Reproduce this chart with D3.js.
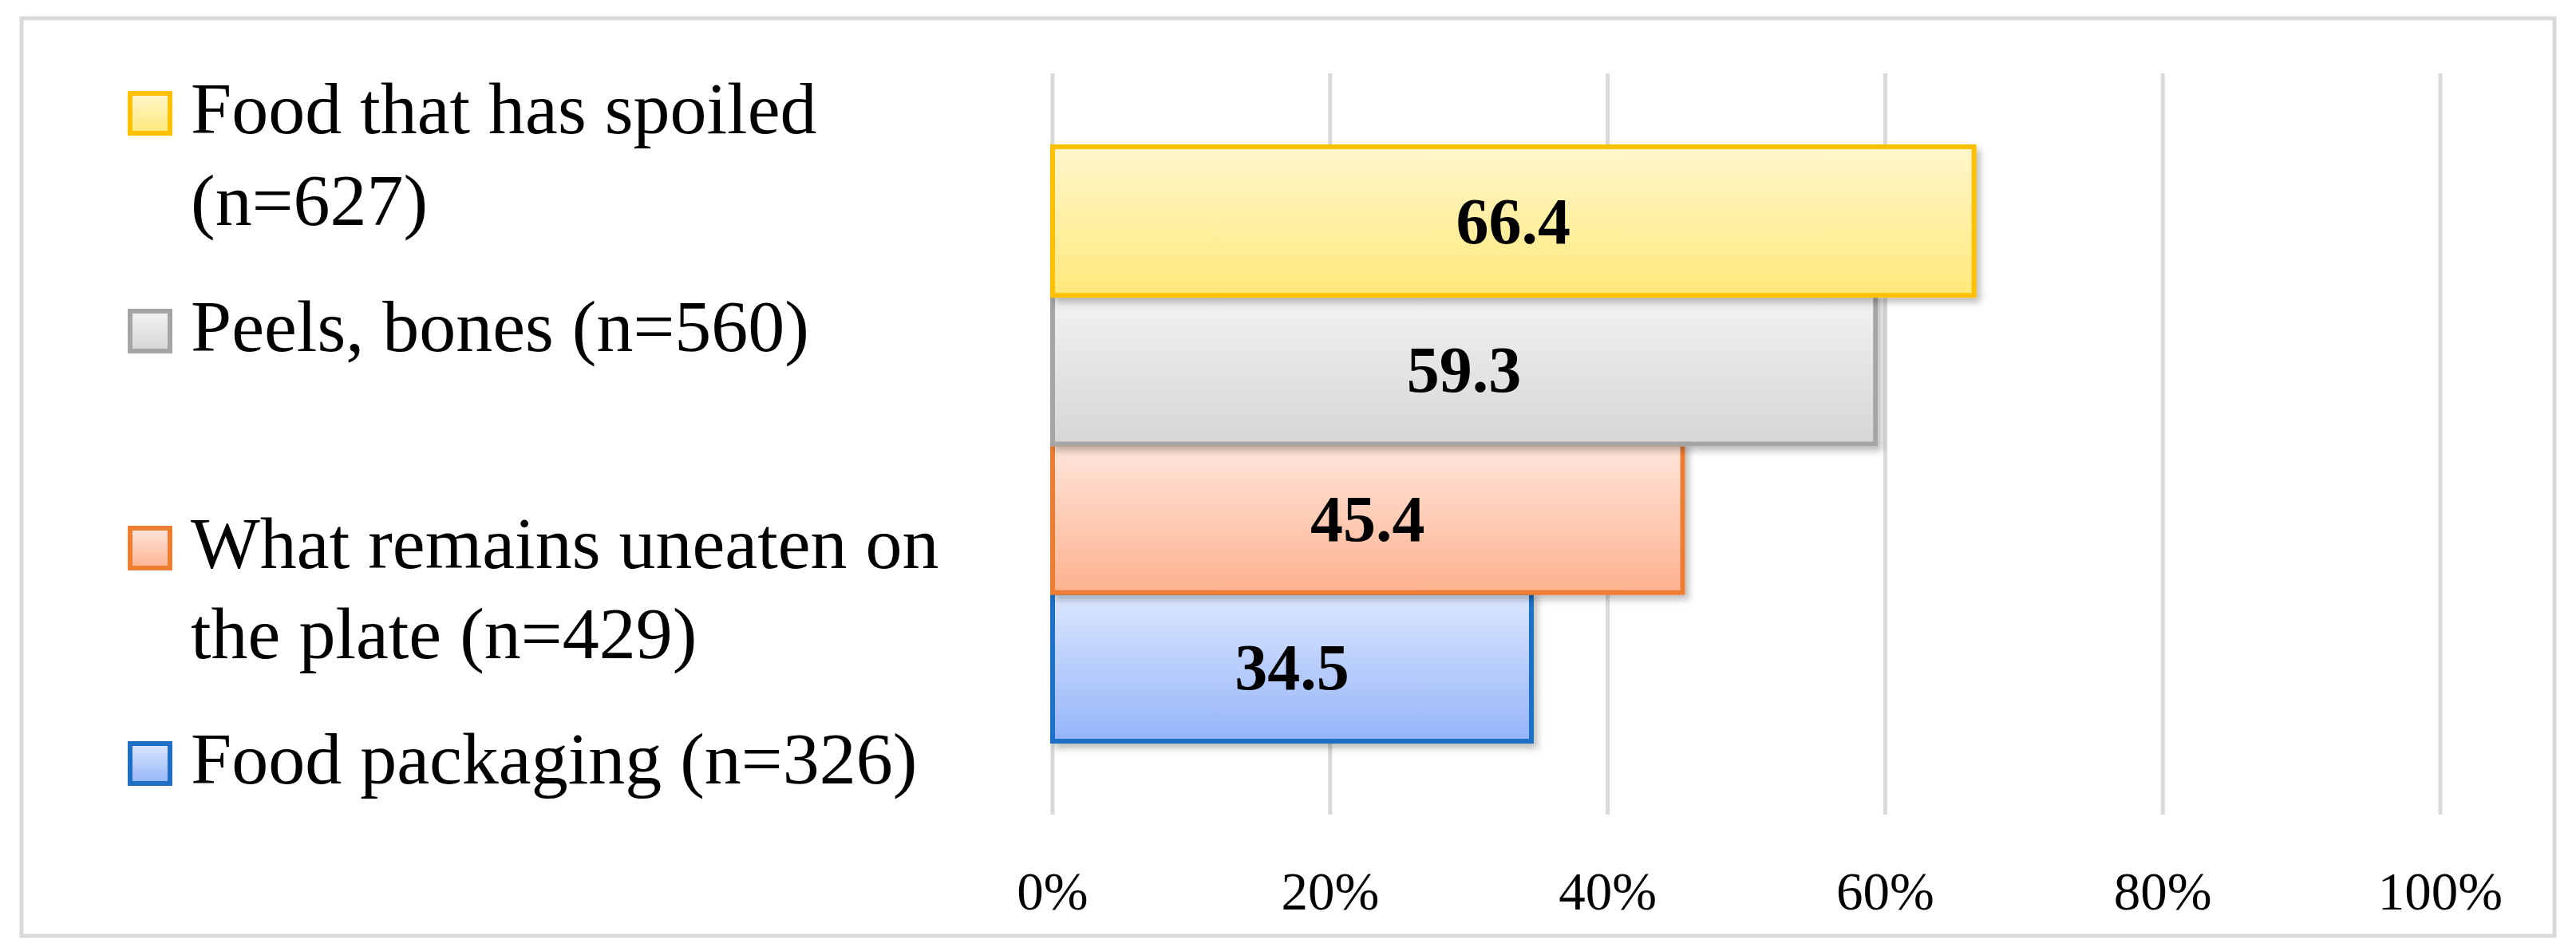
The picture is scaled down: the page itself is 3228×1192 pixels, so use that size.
<!DOCTYPE html><html><head><meta charset="utf-8"><script src="https://cdn.jsdelivr.net/npm/d3@7"></script>
<style>body{margin:0;background:#fff}</style></head><body><svg id="c" width="3228" height="1192"></svg>
<script>
const categories=["Food that has spoiled (n=627)","Peels, bones (n=560)","What remains uneaten on the plate (n=429)","Food packaging (n=326)"];
const legendLines=[["Food that has spoiled","(n=627)"],["Peels, bones (n=560)"],["What remains uneaten on","the plate (n=429)"],["Food packaging (n=326)"]];
const values=[66.4,59.3,45.4,34.5];
const ticks=[0,20,40,60,80,100];
const strokes=["#ffc000","#a5a5a5","#ed7d31","#1f6fc5"];
const gradTop=["#fff6cc","#f2f2f2","#ffe6db","#dde8ff"];
const gradBot=["#ffe97a","#d6d6d6","#fdb28f","#94b4f8"];
const svg=d3.select("#c");
const font="'Liberation Serif','DejaVu Serif',serif";
svg.append("rect").attr("x",27).attr("y",23).attr("width",3174).attr("height",1150).attr("fill","#fff").attr("stroke","#d9d9d9").attr("stroke-width",5);
const defs=svg.append("defs");
categories.forEach((c,i)=>{const g=defs.append("linearGradient").attr("id","g"+i).attr("x1",0).attr("x2",0).attr("y1",0).attr("y2",1);
g.append("stop").attr("offset","0%").attr("stop-color",gradTop[i]);g.append("stop").attr("offset","100%").attr("stop-color",gradBot[i]);});
const f=defs.append("filter").attr("id","sh").attr("x","-5%").attr("y","-5%").attr("width","115%").attr("height","130%");
f.append("feDropShadow").attr("dx",5).attr("dy",6).attr("stdDeviation",4).attr("flood-color","#000").attr("flood-opacity",0.25);
const x=d3.scaleLinear().domain([0,100]).range([1319,3058]);
const y=d3.scaleBand().domain(categories).range([184,929]).padding(0);
svg.append("g").selectAll("line").data(ticks).join("line").attr("x1",d=>x(d)).attr("x2",d=>x(d)).attr("y1",92).attr("y2",1021).attr("stroke","#d9d9d9").attr("stroke-width",5);
svg.append("g").selectAll("text").data(ticks).join("text").attr("x",d=>x(d)).attr("y",1140).attr("text-anchor","middle").attr("font-family",font).attr("font-size",67).text(d=>d+"%");
const order=[3,2,1,0];
const bars=svg.append("g");
order.forEach(i=>{const c=categories[i];
bars.append("rect").attr("x",x(0)).attr("y",y(c)).attr("width",x(values[i])-x(0)).attr("height",y.bandwidth()).attr("fill","url(#g"+i+")").attr("stroke",strokes[i]).attr("stroke-width",6).attr("filter","url(#sh)");
});
categories.forEach((c,i)=>{bars.append("text").attr("x",(x(0)+x(values[i]))/2).attr("y",y(c)+y.bandwidth()/2+28).attr("text-anchor","middle").attr("font-family",font).attr("font-weight","bold").attr("font-size",82).text(values[i].toFixed(1));});
const lg=svg.append("g");
const base=[[167,282],[440],[712,825],[982]];
categories.forEach((c,i)=>{const b=base[i][0];
lg.append("rect").attr("x",163).attr("y",b-50).attr("width",50).attr("height",50).attr("fill","url(#g"+i+")").attr("stroke",strokes[i]).attr("stroke-width",6);
legendLines[i].forEach((t,j)=>lg.append("text").attr("x",239).attr("y",base[i][j]).attr("font-family",font).attr("font-size",92).text(t));
});
</script></body></html>
